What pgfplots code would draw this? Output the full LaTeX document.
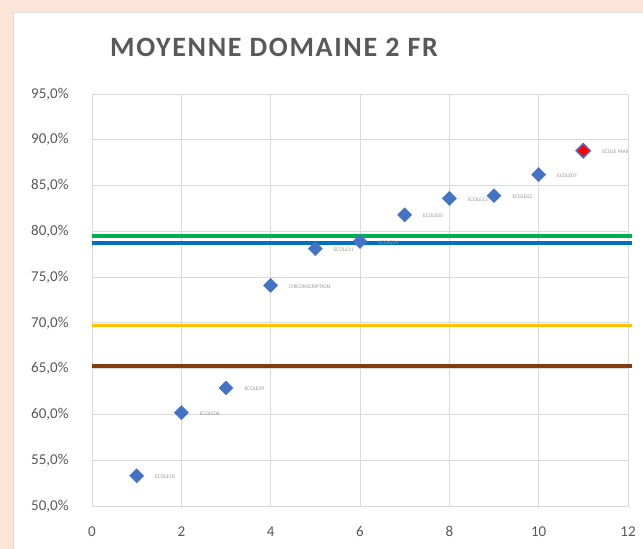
\documentclass[border=0pt]{standalone}
\usepackage{pgfplots}
\pgfplotsset{compat=1.18}
\usepackage{fontspec}
\setmainfont{Carlito}
\definecolor{peach}{HTML}{FCE4D6}
\definecolor{txtgray}{HTML}{595959}
\definecolor{gridgray}{HTML}{D9D9D9}
\definecolor{mblue}{HTML}{4472C4}
\definecolor{lgreen}{HTML}{00B050}
\definecolor{lblue}{HTML}{0070C0}
\definecolor{lyellow}{HTML}{FFC000}
\definecolor{lbrown}{HTML}{843C0C}
\begin{document}
\begin{tikzpicture}[x=1pt,y=1pt]
\useasboundingbox (0,0) rectangle (643,549);
\fill[peach] (0,0) rectangle (643,549);
\fill[white,draw=gray!25] (13,-2) rectangle (646,537);
\node[font=\fontsize{28}{30}\selectfont\bfseries\addfontfeatures{LetterSpace=6}, text=txtgray] at (274,502) {MOYENNE DOMAINE 2 FR};
\begin{axis}[
  at={(92pt,43pt)}, anchor=south west,
  scale only axis, width=536pt, height=412pt,
  xmin=0, xmax=12, ymin=50, ymax=95,
  xtick={0,2,...,12}, ytick={50,55,...,95},
  grid=major, major grid style={gridgray, line width=0.9pt},
  axis line style={gridgray, line width=0.9pt},
  tick style={draw=none},
  tick label style={font=\fontsize{15}{17}\selectfont, text=txtgray},
  /pgf/number format/assume math mode=true,
  yticklabel={\pgfmathprintnumber[fixed,fixed zerofill,precision=1,use comma]{\tick}\%},
  yticklabel style={xshift=-20pt},
  xticklabel style={yshift=-17pt},
  clip=false,
]
\addplot[lgreen, line width=3.5pt] coordinates {(0,79.5) (12.1,79.5)};
\addplot[lblue, line width=3.5pt] coordinates {(0,78.7) (12.1,78.7)};
\addplot[lyellow, line width=3.5pt] coordinates {(0,69.7) (12.1,69.7)};
\addplot[lbrown, line width=3.5pt] coordinates {(0,65.3) (12.1,65.3)};
\addplot[only marks, mark=square*, mark size=5pt, mark options={rotate=45, fill=mblue, draw=mblue},
  nodes near coords, point meta=explicit symbolic,
  every node near coord/.style={anchor=west, xshift=15pt, yshift=-1pt, font=\fontsize{5.5}{6}\selectfont, text=gray!80}]
  table[meta=label] {
x y label
1 53.3 ECOLE18
2 60.2 ECOLE06
3 62.9 ECOLE09
4 74.1 CIRCONSCRIPTION
5 78.1 ECOLE11
6 78.9 ECOLE04
7 81.8 ECOLE05
8 83.6 ECOLE13
9 83.9 ECOLE02
10 86.2 ECOLE07
};
\addplot[only marks, mark=square*, mark size=5pt, mark options={rotate=45, fill=red, draw=mblue, line width=1.5pt},
  nodes near coords, point meta=explicit symbolic,
  every node near coord/.style={anchor=west, xshift=15pt, yshift=-1pt, font=\fontsize{5.5}{6}\selectfont, text=gray!80}]
  table[meta=label] {
x y label
11 88.8 {ECOLE MAX}
};
\end{axis}
\end{tikzpicture}
\end{document}
